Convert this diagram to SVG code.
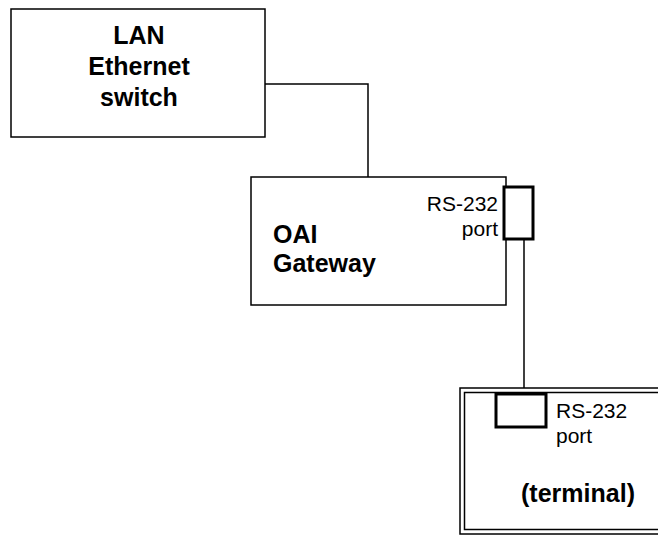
<svg xmlns="http://www.w3.org/2000/svg" width="658" height="535" viewBox="0 0 658 535">
<style>
.box{fill:#fff;stroke:#000;stroke-width:1.5}
.port{fill:#fff;stroke:#000;stroke-width:3}
.wire{fill:none;stroke:#000;stroke-width:1.5}
.b{font-family:"Liberation Sans",Arial,sans-serif;font-weight:bold;font-size:25px;fill:#000}
.r{font-family:"Liberation Sans",Arial,sans-serif;font-size:21px;fill:#000}
</style>
<g id="connectors">
<polyline class="wire" points="265,84 368,84 368,177"/>
<line class="wire" x1="524" y1="239" x2="524" y2="389"/>
</g>
<g id="lan-switch">
<rect class="box" x="11" y="9" width="254" height="128"/>
<text class="b" x="139" y="44" text-anchor="middle">LAN</text>
<text class="b" x="139" y="75" text-anchor="middle">Ethernet</text>
<text class="b" x="139" y="106" text-anchor="middle">switch</text>
</g>
<g id="oai-gateway">
<rect class="box" x="251" y="177" width="255" height="128"/>
<text class="b" x="273" y="243">OAI</text>
<text class="b" x="273" y="272">Gateway</text>
<text class="r" x="498" y="211" text-anchor="end">RS-232</text>
<text class="r" x="498" y="236" text-anchor="end">port</text>
<rect class="port" x="504" y="187" width="29" height="52"/>
</g>
<g id="terminal">
<rect class="box" x="460" y="388" width="210" height="146"/>
<rect class="box" x="464.5" y="392.5" width="210" height="137"/>
<rect class="port" x="496" y="394" width="50" height="33"/>
<text class="r" x="556" y="418">RS-232</text>
<text class="r" x="556" y="443">port</text>
<text class="b" x="578" y="502" text-anchor="middle">(terminal)</text>
</g>
</svg>
